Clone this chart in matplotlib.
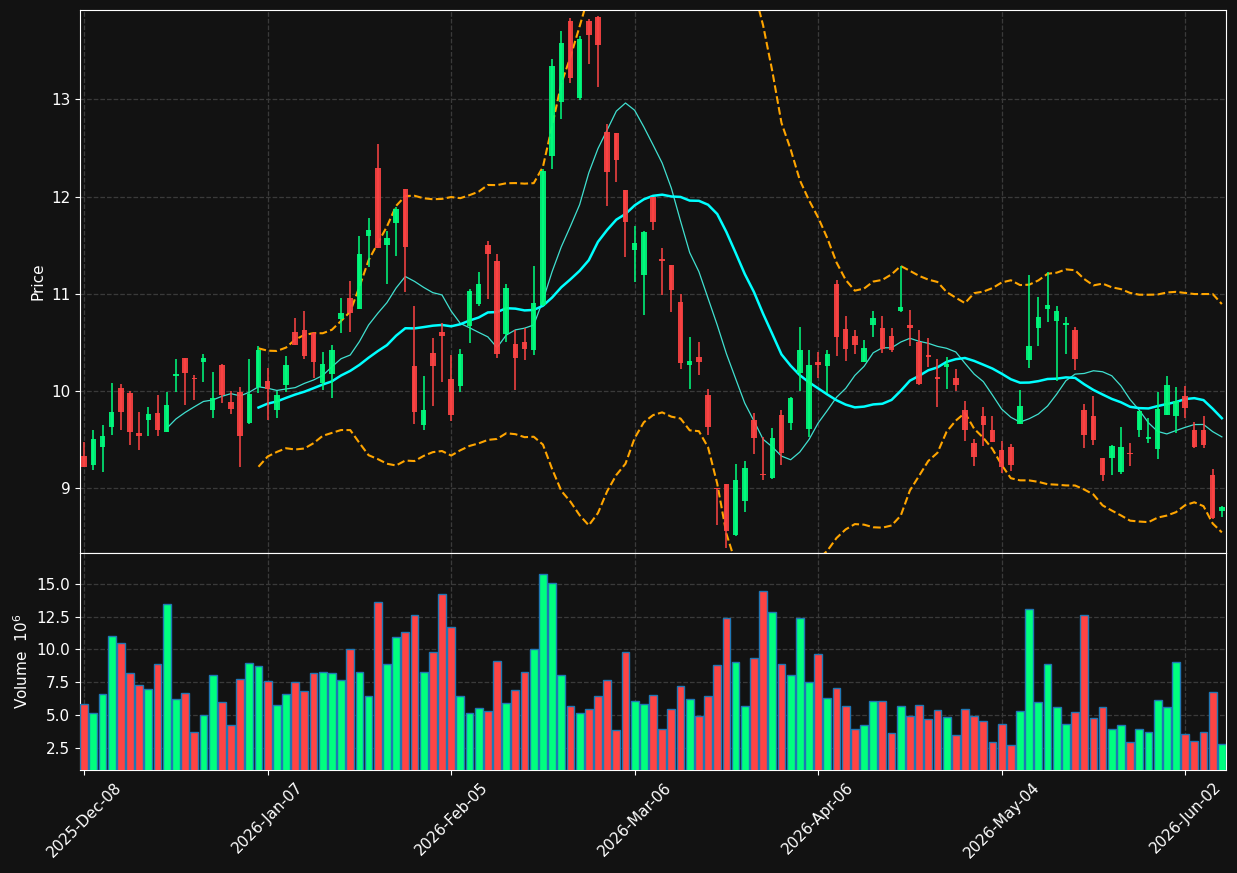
import matplotlib
matplotlib.use("Agg")
import matplotlib.pyplot as plt
import numpy as np
import pandas as pd

# trading days (NYSE holidays dropped)
holidays = ["2025-12-25", "2026-01-01", "2026-01-19", "2026-02-16", "2026-04-03", "2026-05-25"]
dates = pd.bdate_range("2025-12-08", "2026-06-30")
dates = dates[~dates.isin(pd.to_datetime(holidays))][:125]

opens = [9.325, 9.232, 9.417, 9.623, 10.031, 9.979, 9.569, 9.695, 9.774, 9.572,
         10.147, 10.339, 10.123, 10.291, 9.798, 10.267, 9.887, 9.990, 9.671, 10.034,
         10.103, 9.801, 10.061, 10.606, 10.626, 10.592, 10.078, 10.174, 10.739, 10.955,
         10.845, 11.596, 12.291, 11.503, 11.729, 12.082, 10.256, 9.643, 10.390, 10.606,
         10.123, 10.044, 10.670, 10.893, 11.499, 11.335, 10.585, 10.482, 10.503, 10.424,
         10.883, 12.418, 12.973, 13.812, 13.014, 13.812, 13.853, 12.661, 12.651, 12.065,
         11.452, 11.195, 11.993, 11.353, 11.291, 10.911, 10.267, 10.345, 9.955, 9.002,
         9.040, 8.516, 8.869, 9.698, 9.146, 9.098, 9.746, 9.670, 10.184, 9.602,
         10.294, 10.256, 11.096, 10.633, 10.565, 10.298, 10.678, 10.647, 10.565, 10.826,
         10.678, 10.500, 10.370, 10.144, 10.240, 10.134, 9.805, 9.459, 9.743, 9.599,
         9.394, 9.424, 9.657, 10.312, 10.651, 10.846, 10.723, 10.675, 10.627, 9.805,
         9.743, 9.311, 9.305, 9.168, 9.363, 9.592, 9.500, 9.397, 9.753, 9.736,
         9.942, 9.599, 9.599, 9.137, 8.760]
highs = [9.473, 9.599, 9.647, 10.079, 10.068, 10.000, 9.781, 9.832, 9.955, 9.986,
         10.326, 10.339, 10.161, 10.377, 10.192, 10.277, 10.000, 10.039, 10.326, 10.462,
         10.233, 9.993, 10.356, 10.746, 10.818, 10.606, 10.397, 10.469, 10.952, 11.126,
         11.592, 11.774, 12.545, 11.640, 11.887, 12.082, 10.870, 10.150, 10.541, 10.702,
         10.366, 10.431, 11.044, 11.219, 11.541, 11.404, 11.095, 10.626, 10.643, 11.280,
         12.280, 13.418, 13.702, 13.839, 13.651, 13.830, 13.860, 12.750, 12.651, 12.065,
         11.698, 11.650, 11.993, 11.472, 11.291, 10.993, 10.558, 10.506, 10.013, 9.002,
         9.040, 9.246, 9.280, 9.766, 9.520, 9.612, 9.807, 9.938, 10.661, 10.424,
         10.400, 10.424, 11.140, 10.774, 10.624, 10.524, 10.822, 10.771, 10.644, 11.280,
         10.832, 10.624, 10.541, 10.329, 10.346, 10.226, 9.890, 9.503, 9.829, 9.740,
         9.479, 9.452, 10.010, 11.189, 10.970, 11.226, 10.870, 10.764, 10.654, 9.866,
         9.949, 9.311, 9.442, 9.627, 9.462, 9.790, 9.719, 9.983, 10.154, 10.038,
         10.051, 9.678, 9.740, 9.195, 8.818]
lows = [9.212, 9.181, 9.164, 9.541, 9.592, 9.438, 9.390, 9.534, 9.534, 9.572,
        9.986, 9.853, 9.904, 10.089, 9.716, 9.873, 9.760, 9.216, 9.657, 9.976,
        9.695, 9.719, 9.986, 10.476, 10.325, 10.130, 10.006, 9.924, 10.592, 10.602,
        10.845, 11.277, 11.472, 11.096, 11.383, 11.020, 9.660, 9.599, 9.845, 10.088,
        9.684, 9.992, 10.489, 10.873, 10.948, 10.335, 10.499, 10.009, 10.318, 10.366,
        10.870, 12.287, 12.801, 13.171, 12.997, 13.367, 13.130, 11.907, 12.154, 11.373,
        11.116, 10.780, 11.654, 10.986, 10.811, 10.219, 10.023, 10.167, 9.544, 8.619,
        8.379, 8.500, 8.756, 9.345, 9.081, 9.090, 9.235, 9.595, 9.996, 9.520,
        10.133, 9.972, 10.362, 10.308, 10.377, 10.291, 10.558, 10.387, 10.404, 10.810,
        10.456, 10.058, 10.240, 9.832, 10.017, 9.997, 9.483, 9.222, 9.431, 9.472,
        9.150, 9.174, 9.657, 10.230, 10.456, 10.706, 10.096, 10.377, 10.212, 9.411,
        9.442, 9.072, 9.133, 9.144, 9.226, 9.520, 9.459, 9.298, 9.746, 9.565,
        9.719, 9.407, 9.407, 8.680, 8.698]
closes = [9.212, 9.507, 9.538, 9.784, 9.777, 9.572, 9.531, 9.763, 9.592, 9.856,
          10.175, 10.178, 10.116, 10.339, 9.925, 9.952, 9.808, 9.531, 9.969, 10.421,
          10.021, 9.952, 10.267, 10.476, 10.362, 10.301, 10.277, 10.421, 10.801, 10.804,
          11.407, 11.654, 11.472, 11.575, 11.870, 11.483, 9.777, 9.801, 10.260, 10.568,
          9.746, 10.380, 11.027, 11.099, 11.407, 10.383, 11.058, 10.342, 10.434, 10.900,
          12.267, 13.346, 13.582, 13.219, 13.624, 13.665, 13.558, 12.253, 12.377, 11.739,
          11.517, 11.633, 11.739, 11.335, 11.037, 10.287, 10.304, 10.297, 9.629, 8.989,
          8.560, 9.081, 9.201, 9.516, 9.136, 9.509, 9.355, 9.921, 10.424, 10.270,
          10.267, 10.376, 10.554, 10.432, 10.473, 10.442, 10.754, 10.435, 10.421, 10.863,
          10.651, 10.072, 10.343, 10.116, 10.277, 10.062, 9.592, 9.322, 9.644, 9.472,
          9.212, 9.233, 9.846, 10.462, 10.761, 10.884, 10.822, 10.699, 10.322, 9.541,
          9.490, 9.130, 9.435, 9.424, 9.346, 9.788, 9.527, 9.812, 10.062, 9.890,
          9.818, 9.418, 9.445, 8.685, 8.808]
volumes = [5.85, 5.17, 6.62, 11.04, 10.50, 8.22, 7.30, 7.00, 8.90, 13.48,
           6.23, 6.69, 3.72, 5.02, 8.06, 6.01, 4.28, 7.76, 8.98, 8.75,
           7.61, 5.78, 6.62, 7.53, 6.84, 8.22, 8.29, 8.22, 7.68, 10.05,
           8.29, 6.46, 13.63, 8.90, 10.96, 11.29, 12.64, 8.29, 9.82, 14.24,
           11.72, 6.46, 5.17, 5.55, 5.32, 9.13, 5.93, 6.92, 8.29, 10.05,
           15.76, 15.08, 8.06, 5.70, 5.17, 5.47, 6.46, 7.68, 3.87, 9.82,
           6.08, 5.85, 6.54, 3.95, 5.47, 7.23, 6.23, 4.94, 6.46, 8.83,
           12.41, 9.05, 5.70, 9.36, 14.47, 12.87, 8.90, 8.06, 12.41, 7.53,
           9.66, 6.31, 7.07, 5.70, 3.95, 4.25, 6.08, 6.08, 3.64, 5.70,
           4.94, 5.78, 4.71, 5.40, 4.86, 3.49, 5.47, 4.94, 4.56, 2.96,
           4.33, 2.73, 5.32, 13.09, 6.01, 8.90, 5.63, 4.33, 5.24, 12.64,
           4.79, 5.63, 3.95, 4.25, 2.96, 3.95, 3.72, 6.16, 5.63, 9.05,
           3.57, 3.04, 3.72, 6.77, 2.80]

df = pd.DataFrame({"Open": opens, "High": highs, "Low": lows,
                   "Close": closes, "Volume": volumes}, index=dates)

bg = "#121212"
up = "#00ff7f"
down = "#ff4444"

plt.rcParams["font.family"] = "DejaVu Sans"
fig = plt.figure(figsize=(12.37, 8.73), dpi=100, facecolor=bg)
ax = fig.add_axes([0.0647, 0.3666, 0.9264, 0.6219], facecolor=bg)
axv = fig.add_axes([0.0647, 0.1180, 0.9264, 0.2486], facecolor=bg, sharex=ax)

x = np.arange(len(df))
isup = df["Close"].values >= df["Open"].values
colors = np.where(isup, up, down)

# moving averages and bollinger bands (population std)
ma10 = df["Close"].rolling(10).mean()
ma20 = df["Close"].rolling(20).mean()
sd20 = df["Close"].rolling(20).std(ddof=0)
ax.plot(x, ma20 + 2 * sd20, color="orange", ls="--", lw=1.5, zorder=1)
ax.plot(x, ma20 - 2 * sd20, color="orange", ls="--", lw=1.5, zorder=1)
ax.plot(x, ma10, color="#40e0d0", lw=0.9, zorder=2)
ax.plot(x, ma20, color="#00ffff", lw=1.8, zorder=2)

# candles
ax.vlines(x, df["Low"], df["High"], colors=colors, lw=1.1, zorder=3)
body_lo = np.minimum(df["Open"], df["Close"])
body_h = np.maximum(np.abs(df["Close"] - df["Open"]), 0.012)
ax.bar(x, body_h, bottom=body_lo, width=0.6, color=colors, alpha=0.9, zorder=4)

# volume
axv.bar(x, df["Volume"], width=0.85, color=colors, edgecolor="#1f77b4", lw=1.0, zorder=3)
axv.set_ylim(0.3 * df["Volume"].min(), 1.1 * df["Volume"].max())
axv.set_yticks([2.5, 5.0, 7.5, 10.0, 12.5, 15.0])
axv.set_yticklabels(["2.5", "5.0", "7.5", "10.0", "12.5", "15.0"])

ax.set_xlim(-0.45, len(df) - 0.55)
ax.set_ylim(8.33, 13.92)
ax.set_yticks([9, 10, 11, 12, 13])

ticks = list(range(0, len(df), 20))
axv.set_xticks(ticks)
axv.set_xticklabels([dates[i].strftime("%Y-%b-%d") for i in ticks], rotation=45)
plt.setp(ax.get_xticklabels(), visible=False)

ax.set_ylabel("Price", color="white", fontsize=11)
axv.set_ylabel("Volume  $10^{6}$", color="white", fontsize=11)

for a in (ax, axv):
    a.grid(True, color="#3a3a3a", ls="--", lw=0.9)
    a.set_axisbelow(True)
    a.tick_params(colors="white", labelsize=11)
    for s in a.spines.values():
        s.set_color("white")

fig.savefig("out.png", dpi=100, facecolor=bg)
